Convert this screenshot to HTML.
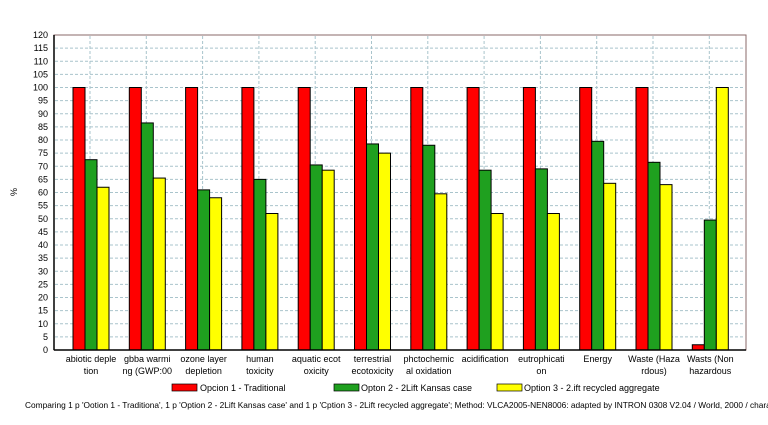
<!DOCTYPE html>
<html><head><meta charset="utf-8"><style>
body{margin:0;background:#fff;}
svg{display:block;font-family:"Liberation Sans",sans-serif;}
</style></head><body>
<svg width="768" height="425" viewBox="0 0 768 425" xmlns="http://www.w3.org/2000/svg">
<rect width="768" height="425" fill="#fff"/>
<g id="grid" stroke="#a9c4cc" stroke-width="1" stroke-dasharray="3,2"></g>
<g id="bars" stroke="#000" stroke-width="1"></g>
<rect x="54" y="35" width="692" height="315" fill="none" stroke="#8a6a6a" stroke-width="1"/>
<line x1="54" y1="35" x2="54" y2="350" stroke="#000" stroke-width="1.5"/>
<line x1="54" y1="350" x2="746" y2="350" stroke="#000" stroke-width="1.5"/>
<g id="yl" font-size="9" text-anchor="end" fill="#000"></g>
<text x="17" y="192" font-size="9" transform="rotate(-90 17 192)" text-anchor="middle">%</text>
<g id="xl" font-size="9" text-anchor="middle" fill="#000"></g>
<rect x="172" y="384" width="25" height="7" fill="#ff0000" stroke="#000" stroke-width="0.7"/>
<text x="200" y="391" font-size="9">Opcion 1 - Traditional</text>
<rect x="334" y="384" width="25" height="7" fill="#1fa01f" stroke="#000" stroke-width="0.7"/>
<text x="361" y="391" font-size="9">Opton 2 - 2Lift Kansas case</text>
<rect x="497" y="384" width="25" height="7" fill="#ffff00" stroke="#000" stroke-width="0.7"/>
<text x="524" y="391" font-size="9">Option 3 - 2.ift recycled aggregate</text>
<text x="25" y="408" font-size="8.6" textLength="750" lengthAdjust="spacingAndGlyphs">Comparing 1 p 'Ootion 1 - Traditiona', 1 p 'Option 2 - 2Lift Kansas case' and 1 p 'Cption 3 - 2Lift recycled aggregate';  Method: VLCA2005-NEN8006: adapted by INTRON 0308 V2.04 /  World, 2000 / charac</text>
</svg>
<script>
const ns="http://www.w3.org/2000/svg";
function el(p,t,a,txt){const e=document.createElementNS(ns,t);for(const k in a)e.setAttribute(k,a[k]);if(txt!==undefined)e.textContent=txt;document.getElementById(p).appendChild(e);}
const Y=v=>350-v*2.625;
for(let v=5;v<=115;v+=5)el("grid","line",{x1:55,x2:745,y1:Y(v),y2:Y(v)});
for(let i=0;i<12;i++){const x=90+56.3*i;el("grid","line",{x1:x,x2:x,y1:36,y2:349});}
for(let v=0;v<=120;v+=5)el("yl","text",{x:48,y:Y(v)+3},String(v));
const d=[[100,72.5,62],[100,86.5,65.5],[100,61,58],[100,65,52],[100,70.5,68.5],[100,78.5,75],[100,78,59.5],[100,68.5,52],[100,69,52],[100,79.5,63.5],[100,71.5,63],[2,49.5,100]];
const c=["#ff0000","#1fa01f","#ffff00"];
d.forEach((g,i)=>g.forEach((v,j)=>{const x=73+56.3*i+12*j;el("bars","rect",{x:x,y:Y(v),width:12,height:v*2.625,fill:c[j]});}));
const L=[["abiotic deple","tion"],["gbba warmi","ng (GWP:00"],["ozone layer","depletion"],["human","toxicity"],["aquatic ecot","oxicity"],["terrestrial","ecotoxicity"],["phctochemic","al oxidation"],["acidification",""],["eutrophicati","on"],["Energy",""],["Waste (Haza","rdous)"],["Wasts (Non","hazardous"]];
L.forEach((l,i)=>{const x=91+56.3*i;el("xl","text",{x:x,y:362},l[0]);if(l[1])el("xl","text",{x:x,y:374},l[1]);});
</script>
</body></html>
